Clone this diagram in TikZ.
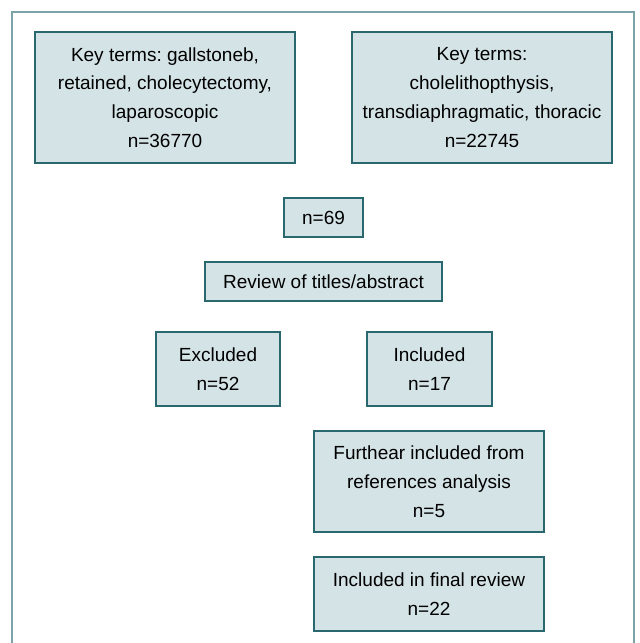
\documentclass[tikz,border=0pt]{standalone}
\usepackage{fontspec}
\setmainfont{Liberation Sans}
\frenchspacing
\definecolor{boxfill}{HTML}{D4E3E6}
\definecolor{boxline}{HTML}{2A6870}
\definecolor{frameline}{HTML}{7BA3A8}
\begin{document}
\begin{tikzpicture}[x=0.5pt, y=-0.5pt,
  box/.style={draw=boxline, fill=boxfill, line width=0.8pt, inner sep=0pt,
    align=center, font=\fontsize{9.5}{14.4}\selectfont}]
\useasboundingbox (0,0) rectangle (639,643);
\draw[frameline, line width=0.75pt] (12,643) -- (12,12) -- (634,12) -- (634,643);
\node[box, minimum width=130pt, minimum height=65.5pt] (kwA) at (165,97.5)
  {Key terms: gallstoneb,\\retained, cholecytectomy,\\laparoscopic\\n=36770};
\node[box, minimum width=130pt, minimum height=65.5pt] (kwB) at (482,97.5)
  {Key terms:\\cholelithopthysis,\\transdiaphragmatic, thoracic\\n=22745};
\node[box, minimum width=39.5pt, minimum height=19.5pt] (total) at (323.5,217.5) {n=69};
\node[box, minimum width=118.5pt, minimum height=19.5pt] (review) at (323.5,281.5) {Review of titles/abstract};
\node[box, minimum width=62pt, minimum height=37pt] (excl) at (218,369) {Excluded\\n=52};
\node[box, minimum width=62.5pt, minimum height=37pt] (incl) at (429.5,369) {Included\\n=17};
\node[box, minimum width=115pt, minimum height=50.5pt] (further) at (429,481.5)
  {Furthear included from\\references analysis\\n=5};
\node[box, minimum width=115pt, minimum height=37pt] (final) at (429,594)
  {Included in final review\\n=22};
\end{tikzpicture}
\end{document}
